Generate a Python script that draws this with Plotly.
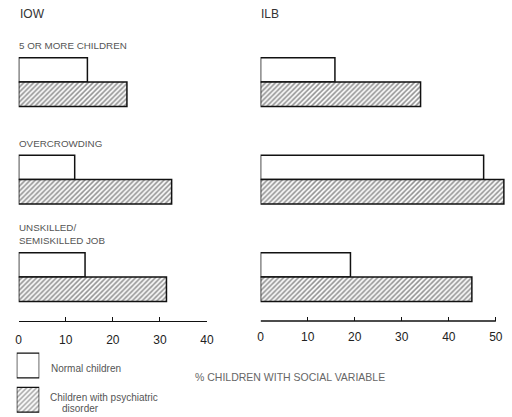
import plotly.graph_objects as go

W, H = 512, 417

categories = ["5 OR MORE CHILDREN", "OVERCROWDING", "UNSKILLED/<br>SEMISKILLED JOB"]
iow_normal = [14.6, 11.9, 14.1]
iow_psych = [23.0, 32.5, 31.4]
ilb_normal = [15.8, 47.4, 19.1]
ilb_psych = [34.0, 51.7, 44.9]
iow_ticks = [0, 10, 20, 30, 40]
ilb_ticks = [0, 10, 20, 30, 40, 50]
legend_labels = ["Normal children", "Children with psychiatric disorder"]
legend_values = [1, 1]
legend_patterns = ["", "/"]

FONT = "Liberation Sans, Arial, sans-serif"
HATCH = dict(shape="/", size=3.5, solidity=0.45, fgcolor="#1a1a1a", bgcolor="white")

def px_x(p):
    return p / W

def px_y(p):
    return 1 - p / H

fig = go.Figure()

for xa, ya, normal, psych in [("x", "y", iow_normal, iow_psych), ("x2", "y2", ilb_normal, ilb_psych)]:
    fig.add_trace(go.Bar(
        x=normal, y=categories, orientation="h", xaxis=xa, yaxis=ya,
        marker=dict(color="white", line=dict(color="#111", width=1.5)),
        showlegend=False, hoverinfo="x",
    ))
    fig.add_trace(go.Bar(
        x=psych, y=categories, orientation="h", xaxis=xa, yaxis=ya,
        marker=dict(color="white", line=dict(color="#111", width=1.5), pattern=HATCH),
        showlegend=False, hoverinfo="x",
    ))

# legend boxes
fig.add_trace(go.Bar(
    x=legend_values, y=legend_labels, orientation="h", xaxis="x3", yaxis="y3",
    width=0.72,
    marker=dict(color="white", line=dict(color="#111", width=1.3),
                pattern=dict(shape=legend_patterns, size=3.5, solidity=0.4, fgcolor="#333", bgcolor="white")),
    showlegend=False, hoverinfo="skip",
))

ydom = [px_y(321), px_y(33.25)]
yrange = [2.45, -0.5]

fig.update_layout(
    width=W, height=H,
    margin=dict(l=0, r=0, t=0, b=0),
    paper_bgcolor="white", plot_bgcolor="white",
    barmode="group", bargap=0.5, bargroupgap=0,
    font=dict(family=FONT, color="#222"),
    xaxis=dict(domain=[px_x(16), px_x(208)], range=[0, 40], tickvals=iow_ticks,
               showline=True, linecolor="#111", linewidth=1.4, ticks="inside", ticklen=4,
               tickcolor="#111", showgrid=False, zeroline=False, anchor="y",
               ticklabelstandoff=7,
               tickfont=dict(size=12, color="#222"), fixedrange=True),
    yaxis=dict(domain=ydom, range=yrange, showticklabels=False, showgrid=False,
               zeroline=False, showline=False, ticks="", anchor="x", fixedrange=True),
    xaxis2=dict(domain=[px_x(262.7), 1.0], range=[0, 51.94], tickvals=ilb_ticks,
                showline=False, ticks="inside", ticklen=4, tickcolor="#111",
                showgrid=False, zeroline=False, anchor="y2",
                ticklabelstandoff=7,
                tickfont=dict(size=12, color="#222"), fixedrange=True),
    yaxis2=dict(domain=ydom, range=yrange, showticklabels=False, showgrid=False,
                zeroline=False, showline=False, ticks="", anchor="x2", fixedrange=True),
    xaxis3=dict(domain=[px_x(14), px_x(37)], range=[0, 1], visible=False, anchor="y3", fixedrange=True),
    yaxis3=dict(domain=[0, px_y(348.25)], range=[1.5, -0.5], visible=False, anchor="x3", fixedrange=True),
)

# axis line for right panel (only up to 50)
fig.add_shape(type="line", xref="x2", yref="y2 domain", x0=0, x1=50, y0=0, y1=0,
              line=dict(color="#111", width=1.4))

ann = []
ann.append(dict(text="IOW", x=px_x(15), y=px_y(14), xref="paper", yref="paper",
                xanchor="left", yanchor="middle", showarrow=False, font=dict(size=12, color="#333")))
ann.append(dict(text="ILB", x=px_x(261), y=px_y(14), xref="paper", yref="paper",
                xanchor="left", yanchor="middle", showarrow=False, font=dict(size=12, color="#333")))
for c in categories:
    ann.append(dict(text=c, x=0, y=c, xref="x", yref="y", xanchor="left", yanchor="bottom",
                    yshift=29, align="left", showarrow=False, xshift=-2,
                    font=dict(size=9.8, color="#555")))
ann.append(dict(text="% CHILDREN WITH SOCIAL VARIABLE", x=px_x(293), y=px_y(377), xref="paper", yref="paper",
                xanchor="center", yanchor="middle", showarrow=False, font=dict(size=10.5, color="#666")))
ann.append(dict(text="Normal children", x=px_x(47), y=px_y(368), xref="paper", yref="paper",
                xanchor="left", yanchor="middle", showarrow=False, font=dict(size=10, color="#555")))
ann.append(dict(text="Children with psychiatric", x=px_x(46), y=px_y(397), xref="paper", yref="paper",
                xanchor="left", yanchor="middle", showarrow=False, font=dict(size=10, color="#555")))
ann.append(dict(text="disorder", x=px_x(58), y=px_y(408), xref="paper", yref="paper",
                xanchor="left", yanchor="middle", showarrow=False, font=dict(size=10, color="#555")))
fig.update_layout(annotations=ann)

fig.write_html("out.html", config={"displayModeBar": False},
               post_script="document.body.style.margin='0';")
